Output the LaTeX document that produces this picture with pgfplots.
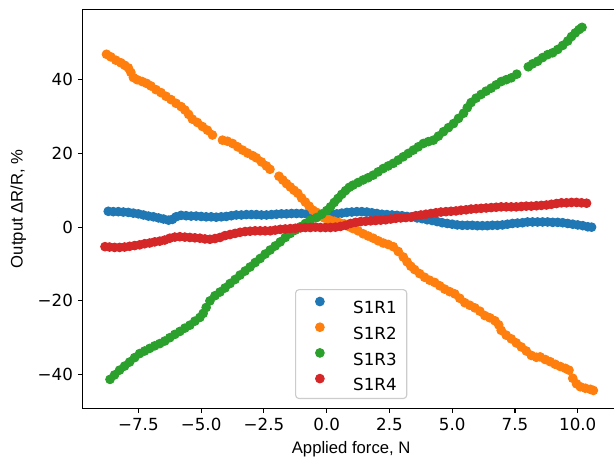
\documentclass[border=0pt]{standalone}
\usepackage{fontspec}
\setmainfont{DejaVu Sans}
\newfontfamily\lib{Liberation Sans}
\usepackage{pgfplots}
\pgfplotsset{compat=1.18}
\usetikzlibrary{calc}
\definecolor{C0}{HTML}{1F77B4}
\definecolor{C1}{HTML}{FF7F0E}
\definecolor{C2}{HTML}{2CA02C}
\definecolor{C3}{HTML}{D62728}
\definecolor{legedge}{HTML}{CCCCCC}

\pgfplotstableread{
x y
-8.7 4.3
-8.5 4.2
-8.3 4.2
-8.1 4.1
-7.9 4.0
-7.7 3.8
-7.5 3.6
-7.3 3.3
-7.1 3.0
-6.9 2.8
-6.7 2.5
-6.5 2.2
-6.3 1.9
-6.15 2.1
-6.0 2.8
-5.8 3.2
-5.6 3.1
-5.4 3.0
-5.2 3.0
-5.0 2.9
-4.8 2.8
-4.6 2.8
-4.4 2.7
-4.2 2.8
-4.0 2.9
-3.8 3.1
-3.6 3.3
-3.4 3.3
-3.2 3.4
-3.0 3.4
-2.8 3.4
-2.6 3.3
-2.4 3.3
-2.2 3.4
-2.0 3.5
-1.8 3.6
-1.6 3.6
-1.4 3.7
-1.2 3.7
-1.0 3.7
-0.8 3.6
-0.6 3.5
-0.4 3.5
-0.2 3.5
0.0 3.4
0.2 3.5
0.4 3.6
0.6 3.8
0.8 4.0
1.0 4.1
1.2 4.2
1.4 4.2
1.6 4.1
1.8 3.9
2.0 3.7
2.2 3.5
2.4 3.4
2.6 3.3
2.8 3.2
3.0 3.1
3.2 2.9
3.4 2.8
3.6 2.5
3.8 2.3
4.0 2.0
4.2 1.8
4.4 1.5
4.6 1.2
4.8 1.0
5.0 0.8
5.2 0.6
5.4 0.5
5.6 0.5
5.8 0.5
6.0 0.4
6.2 0.4
6.4 0.4
6.6 0.5
6.8 0.5
7.0 0.6
7.2 0.8
7.4 1.0
7.6 1.1
7.8 1.2
8.0 1.4
8.2 1.4
8.4 1.4
8.6 1.4
8.8 1.4
9.0 1.3
9.2 1.3
9.4 1.2
9.6 1.0
9.8 0.8
10.0 0.6
10.2 0.4
10.4 0.1
10.55 0.0
}\sA

\pgfplotstableread{
x y
-8.77 46.9
-8.6 46.2
-8.4 45.3
-8.2 44.6
-8.04 43.9
-7.9 43.2
-7.8 42.0
-7.7 40.6
-7.55 40.0
-7.35 39.5
-7.17 39.0
-7.0 38.3
-6.8 37.3
-6.6 36.5
-6.4 35.5
-6.2 34.6
-6.0 33.6
-5.8 32.7
-5.65 31.8
-5.5 30.6
-5.35 29.3
-5.15 28.4
-4.95 27.3
-4.75 26.3
-4.55 25.0
-4.15 23.6
-3.95 23.3
-3.75 22.7
-3.55 21.8
-3.35 20.9
-3.15 20.1
-2.95 19.4
-2.8 18.8
-2.6 17.7
-2.4 16.6
-2.26 15.7
-1.9 13.8
-1.75 12.8
-1.6 11.8
-1.45 10.9
-1.3 10.0
-1.15 9.2
-1.0 7.9
-0.85 6.8
-0.7 5.7
-0.55 4.6
-0.4 4.0
-0.25 3.2
-0.1 2.5
0.1 2.0
0.3 1.6
0.5 1.2
0.7 0.9
0.9 0.1
1.05 -0.4
1.25 -1.0
1.45 -1.8
1.65 -2.4
1.85 -3.0
2.05 -3.7
2.25 -4.3
2.45 -4.7
2.65 -5.3
2.85 -6.6
3.05 -8.1
3.2 -9.4
3.35 -10.6
3.5 -11.5
3.7 -12.6
3.9 -13.6
4.1 -14.4
4.3 -15.0
4.5 -15.9
4.7 -16.8
4.9 -17.5
5.1 -18.1
5.3 -19.3
5.5 -20.5
5.7 -21.2
5.9 -21.9
6.1 -22.8
6.3 -24.0
6.5 -24.6
6.7 -25.4
6.85 -26.5
6.95 -28.0
7.15 -29.3
7.35 -30.3
7.55 -31.4
7.75 -32.5
7.95 -33.6
8.15 -34.8
8.35 -35.3
8.5 -35.2
8.7 -35.9
8.9 -36.5
9.1 -37.2
9.3 -37.8
9.5 -38.3
9.65 -38.8
9.8 -41.0
9.95 -42.5
10.1 -43.3
10.3 -43.7
10.5 -44.0
10.62 -44.3
}\sB

\pgfplotstableread{
x y
-8.63 -41.3
-8.45 -40.1
-8.25 -38.8
-8.05 -37.7
-7.85 -36.6
-7.65 -35.4
-7.45 -34.3
-7.25 -33.6
-7.05 -32.9
-6.85 -32.2
-6.65 -31.6
-6.45 -30.9
-6.25 -30.0
-6.05 -29.1
-5.85 -28.3
-5.65 -27.4
-5.45 -26.6
-5.25 -25.5
-5.05 -24.5
-4.92 -23.4
-4.8 -21.8
-4.65 -20.0
-4.45 -18.6
-4.25 -17.6
-4.05 -16.5
-3.85 -15.3
-3.65 -14.2
-3.45 -13.0
-3.25 -11.9
-3.05 -10.8
-2.85 -9.6
-2.65 -8.5
-2.45 -7.3
-2.25 -6.2
-2.05 -5.1
-1.85 -4.0
-1.65 -2.8
-1.45 -1.7
-1.25 -0.8
-1.05 0.1
-0.85 1.0
-0.65 1.9
-0.4 2.6
-0.2 3.5
0.0 4.5
0.15 5.5
0.3 6.7
0.45 7.8
0.6 8.9
0.75 9.9
0.9 10.8
1.05 11.4
1.25 12.1
1.45 12.8
1.65 13.4
1.85 14.1
2.05 15.0
2.25 15.9
2.45 16.6
2.65 17.3
2.85 18.2
3.05 19.1
3.25 20.0
3.45 20.9
3.65 21.8
3.85 22.7
4.05 23.2
4.25 23.6
4.45 24.7
4.65 25.9
4.85 27.0
5.05 28.1
5.25 29.5
5.45 30.9
5.6 32.4
5.75 33.8
5.95 35.0
6.15 36.0
6.35 36.9
6.55 37.7
6.75 38.6
6.95 39.5
7.15 40.0
7.35 40.5
7.57 41.5
8.03 43.5
8.2 44.3
8.4 45.0
8.6 46.0
8.8 46.8
9.0 47.3
9.2 48.2
9.4 49.3
9.6 50.5
9.75 51.7
9.9 52.7
10.05 53.6
10.17 54.2
}\sC

\pgfplotstableread{
x y
-8.83 -5.3
-8.65 -5.4
-8.45 -5.5
-8.25 -5.5
-8.05 -5.4
-7.85 -5.2
-7.65 -5.0
-7.45 -4.8
-7.25 -4.5
-7.05 -4.3
-6.85 -4.0
-6.65 -3.8
-6.45 -3.5
-6.25 -3.0
-6.05 -2.7
-5.85 -2.6
-5.65 -2.7
-5.45 -2.8
-5.25 -2.9
-5.05 -3.0
-4.85 -3.2
-4.65 -3.3
-4.45 -3.1
-4.25 -2.8
-4.05 -2.3
-3.85 -2.0
-3.65 -1.7
-3.45 -1.4
-3.25 -1.2
-3.05 -1.1
-2.85 -1.0
-2.65 -1.0
-2.45 -1.0
-2.25 -1.0
-2.05 -0.8
-1.85 -0.6
-1.65 -0.5
-1.45 -0.4
-1.25 -0.3
-1.05 -0.2
-0.85 -0.1
-0.65 -0.1
-0.45 0.0
-0.25 -0.1
-0.05 -0.1
0.15 -0.1
0.35 0.0
0.55 0.2
0.75 0.5
0.95 1.0
1.15 1.3
1.35 1.5
1.55 1.6
1.75 1.7
1.95 1.8
2.15 1.9
2.35 2.0
2.55 2.2
2.75 2.4
2.95 2.5
3.15 2.6
3.35 2.7
3.55 3.1
3.75 3.3
3.95 3.5
4.15 3.7
4.35 3.9
4.55 4.1
4.75 4.2
4.95 4.3
5.15 4.4
5.35 4.6
5.55 4.7
5.75 4.9
5.95 5.0
6.15 5.1
6.35 5.2
6.55 5.3
6.75 5.4
6.95 5.5
7.15 5.5
7.35 5.5
7.55 5.5
7.75 5.6
7.95 5.7
8.15 5.7
8.35 5.8
8.55 5.9
8.75 6.0
8.95 6.2
9.15 6.4
9.35 6.6
9.55 6.6
9.75 6.7
9.95 6.7
10.15 6.6
10.35 6.5
}\sD

\begin{document}
\begin{tikzpicture}
\begin{axis}[
  scale only axis,
  width=386.6pt, height=287.1pt,
  xmin=-9.72, xmax=11.67, ymin=-49.1, ymax=59.1,
  axis line style={line width=0.8pt, black},
  every tick/.style={line width=0.8pt, black},
  major tick length=3.5pt,
  tick align=outside,
  xtick pos=left, ytick pos=left,
  xtick={-7.5,-5,-2.5,0,2.5,5,7.5,10},
  xticklabels={−7.5,−5.0,−2.5,0.0,2.5,5.0,7.5,10.0},
  ytick={-40,-20,0,20,40},
  yticklabels={−40,−20,0,20,40},
  tick label style={font=\fontsize{12}{14}\selectfont},
  xlabel={Applied force, N},
  ylabel={Output ΔR/R, \%},
  every axis x label/.style={at={(axis description cs:0.5,-0.103)}, anchor=center, font=\lib\fontsize{12}{14}\selectfont},
  every axis y label/.style={at={(axis description cs:-0.1199,0.5)}, anchor=center, rotate=90, font=\lib\fontsize{12}{14}\selectfont},
  legend style={at={(axis description cs:0.5,0.0226)}, anchor=south,
    draw=legedge, line width=0.8pt, rounded corners=2.5pt,
    fill=white, fill opacity=0.8, text opacity=1,
    inner xsep=7.3pt, inner ysep=5.45pt,
    row sep=6.5pt, column sep=8.5pt,
    nodes={inner sep=0pt, text height=9pt, text depth=0pt},
    font=\fontsize{12}{14}\selectfont},
  legend cell align=left,
  legend image code/.code={\path[draw=none, fill=none] (0pt,0pt) -- (25.7pt,0pt); \draw[#1, draw opacity=1, fill opacity=1] plot coordinates {(10.2pt,4.4pt)};},
]
\coordinate (SW) at (rel axis cs:0,0);
\addplot[only marks, mark=*, mark size=3.1pt, color=C0, mark options={line width=0.75pt}] table[x=x,y=y] {\sA};
\addlegendentry{S1R1}
\addplot[only marks, mark=*, mark size=3.1pt, color=C1, mark options={line width=0.75pt}] table[x=x,y=y] {\sB};
\addlegendentry{S1R2}
\addplot[only marks, mark=*, mark size=3.1pt, color=C2, mark options={line width=0.75pt}] table[x=x,y=y] {\sC};
\addlegendentry{S1R3}
\addplot[only marks, mark=*, mark size=3.1pt, color=C3, mark options={line width=0.75pt}] table[x=x,y=y] {\sD};
\addlegendentry{S1R4}
\end{axis}
\pgfresetboundingbox
\path[use as bounding box] ($(SW)+(-59.5pt,-39.6pt)$) rectangle ($(SW)+(382.5pt,293.8pt)$);
\end{tikzpicture}
\end{document}
